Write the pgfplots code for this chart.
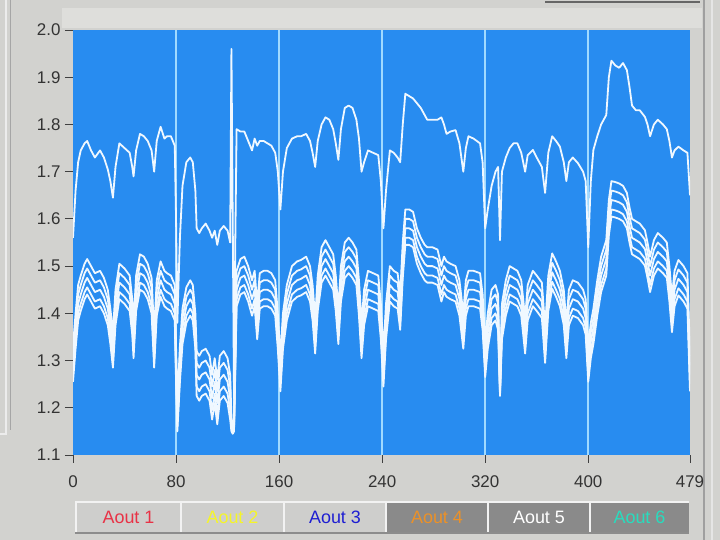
\documentclass[border=0pt]{standalone}
\usepackage{fontspec}
\setmainfont{Liberation Sans}
\usepackage{pgfplots}
\usepackage{pgfplotstable}
\pgfplotsset{compat=1.18}
\definecolor{bggray}{RGB}{210,210,207}
\definecolor{plotblue}{RGB}{40,140,240}
\definecolor{gridcyan}{RGB}{160,218,255}
\definecolor{boxlight}{RGB}{206,206,204}
\definecolor{boxdark}{RGB}{138,138,138}
\definecolor{lred}{RGB}{232,50,70}
\definecolor{lyellow}{RGB}{245,245,40}
\definecolor{lblue}{RGB}{30,30,210}
\definecolor{lorange}{RGB}{235,145,40}
\definecolor{lteal}{RGB}{40,220,190}
\definecolor{trace}{RGB}{240,248,255}
\definecolor{stripgray}{RGB}{222,222,219}

\pgfplotstableread{
x T a b c d e
0 1.56 1.33 1.31 1.29 1.27 1.255
2 1.66 1.40 1.38 1.36 1.34 1.325
4 1.72 1.46 1.44 1.42 1.40 1.385
6 1.745 1.48 1.46 1.44 1.42 1.405
9 1.76 1.505 1.485 1.465 1.445 1.43
11 1.765 1.515 1.495 1.475 1.455 1.44
14 1.745 1.50 1.48 1.46 1.44 1.425
17 1.73 1.485 1.465 1.445 1.425 1.41
21 1.745 1.49 1.47 1.45 1.43 1.415
24 1.73 1.475 1.455 1.435 1.415 1.40
27 1.705 1.45 1.43 1.41 1.39 1.375
29 1.68 1.41 1.39 1.37 1.35 1.335
31 1.645 1.36 1.34 1.32 1.30 1.285
33 1.71 1.45 1.43 1.41 1.39 1.375
36 1.76 1.505 1.485 1.465 1.445 1.43
40 1.75 1.495 1.475 1.455 1.435 1.42
44 1.74 1.48 1.46 1.44 1.42 1.405
46 1.71 1.43 1.41 1.39 1.37 1.355
47 1.69 1.38 1.36 1.34 1.32 1.305
49 1.745 1.48 1.46 1.44 1.42 1.405
52 1.78 1.525 1.505 1.485 1.465 1.45
55 1.775 1.52 1.50 1.48 1.46 1.445
58 1.765 1.505 1.485 1.465 1.445 1.43
61 1.745 1.475 1.455 1.435 1.415 1.40
63 1.70 1.36 1.34 1.32 1.30 1.285
65 1.765 1.47 1.45 1.43 1.41 1.395
68 1.795 1.51 1.49 1.47 1.45 1.435
71 1.77 1.49 1.47 1.45 1.43 1.415
73 1.775 1.485 1.465 1.445 1.425 1.41
76 1.775 1.48 1.46 1.44 1.42 1.405
79 1.755 1.46 1.44 1.42 1.40 1.385
80 1.60 1.33 1.31 1.29 1.27 1.255
81 1.38 1.21 1.19 1.17 1.16 1.15
83 1.56 1.33 1.31 1.29 1.27 1.255
85 1.67 1.41 1.39 1.37 1.35 1.335
88 1.72 1.455 1.435 1.415 1.395 1.38
91 1.73 1.47 1.45 1.43 1.41 1.395
93 1.72 1.46 1.44 1.42 1.40 1.385
95 1.66 1.40 1.38 1.36 1.34 1.325
96 1.58 1.32 1.295 1.27 1.245 1.225
98 1.57 1.31 1.285 1.26 1.235 1.215
100 1.58 1.32 1.295 1.27 1.245 1.225
103 1.59 1.325 1.30 1.275 1.25 1.23
106 1.575 1.31 1.285 1.26 1.235 1.215
108 1.56 1.27 1.245 1.22 1.195 1.175
110 1.575 1.305 1.28 1.255 1.23 1.21
112 1.545 1.26 1.235 1.21 1.185 1.165
114 1.575 1.31 1.285 1.26 1.235 1.215
117 1.585 1.32 1.295 1.27 1.245 1.225
120 1.575 1.305 1.28 1.255 1.23 1.21
122 1.55 1.27 1.245 1.22 1.195 1.175
123 1.96 1.18 1.17 1.16 1.155 1.15
124 1.60 1.16 1.155 1.15 1.15 1.145
125 1.22 1.17 1.165 1.16 1.155 1.15
126 1.55 1.35 1.33 1.31 1.29 1.275
127 1.79 1.49 1.47 1.45 1.43 1.415
130 1.785 1.515 1.495 1.475 1.455 1.44
133 1.785 1.52 1.50 1.48 1.46 1.445
136 1.765 1.50 1.48 1.46 1.44 1.425
139 1.745 1.47 1.45 1.43 1.41 1.395
141 1.77 1.49 1.47 1.45 1.43 1.415
143 1.755 1.42 1.40 1.38 1.36 1.345
145 1.765 1.485 1.465 1.445 1.425 1.41
148 1.765 1.49 1.47 1.45 1.43 1.415
151 1.76 1.49 1.47 1.45 1.43 1.415
154 1.755 1.485 1.465 1.445 1.425 1.41
157 1.74 1.47 1.45 1.43 1.41 1.395
159 1.70 1.40 1.38 1.36 1.34 1.325
161 1.62 1.31 1.29 1.27 1.25 1.235
163 1.70 1.40 1.38 1.36 1.34 1.325
166 1.75 1.46 1.44 1.42 1.40 1.385
170 1.77 1.50 1.48 1.46 1.44 1.425
174 1.775 1.51 1.49 1.47 1.45 1.435
177 1.775 1.513 1.493 1.473 1.453 1.438
181 1.78 1.52 1.50 1.48 1.46 1.445
184 1.765 1.50 1.48 1.46 1.44 1.425
186 1.74 1.46 1.44 1.42 1.40 1.385
188 1.71 1.39 1.37 1.35 1.33 1.315
190 1.765 1.48 1.46 1.44 1.42 1.405
193 1.80 1.54 1.52 1.50 1.48 1.465
196 1.815 1.555 1.535 1.515 1.495 1.48
199 1.81 1.54 1.52 1.50 1.48 1.465
202 1.79 1.525 1.505 1.485 1.465 1.45
204 1.76 1.48 1.46 1.44 1.42 1.405
206 1.725 1.41 1.39 1.37 1.35 1.335
208 1.79 1.50 1.48 1.46 1.44 1.425
211 1.835 1.55 1.53 1.51 1.49 1.475
214 1.84 1.56 1.54 1.52 1.50 1.485
217 1.835 1.55 1.53 1.51 1.49 1.475
220 1.81 1.535 1.515 1.495 1.475 1.46
222 1.77 1.47 1.45 1.43 1.41 1.395
224 1.70 1.38 1.36 1.34 1.32 1.305
226 1.72 1.45 1.43 1.41 1.39 1.375
229 1.745 1.49 1.47 1.45 1.43 1.415
233 1.74 1.485 1.465 1.445 1.425 1.41
237 1.735 1.48 1.46 1.44 1.42 1.405
239 1.68 1.42 1.40 1.38 1.36 1.345
241 1.58 1.32 1.30 1.28 1.26 1.245
243 1.66 1.42 1.40 1.38 1.36 1.345
246 1.745 1.50 1.48 1.46 1.44 1.425
249 1.74 1.49 1.47 1.45 1.43 1.415
252 1.73 1.485 1.465 1.445 1.425 1.41
254 1.72 1.44 1.42 1.40 1.38 1.365
256 1.80 1.55 1.53 1.51 1.49 1.475
258 1.865 1.62 1.60 1.58 1.56 1.545
261 1.86 1.62 1.60 1.58 1.56 1.545
264 1.855 1.615 1.595 1.575 1.555 1.54
267 1.845 1.58 1.56 1.54 1.52 1.505
270 1.835 1.56 1.54 1.52 1.50 1.485
273 1.82 1.545 1.525 1.505 1.485 1.47
275 1.81 1.54 1.52 1.50 1.48 1.465
279 1.81 1.54 1.52 1.50 1.48 1.465
283 1.81 1.535 1.515 1.495 1.475 1.46
286 1.815 1.50 1.48 1.46 1.44 1.425
288 1.80 1.52 1.50 1.48 1.46 1.445
290 1.78 1.51 1.49 1.47 1.45 1.435
293 1.785 1.505 1.485 1.465 1.445 1.43
297 1.788 1.50 1.48 1.46 1.44 1.425
300 1.76 1.47 1.45 1.43 1.41 1.395
303 1.70 1.40 1.38 1.36 1.34 1.325
305 1.75 1.47 1.45 1.43 1.41 1.395
307 1.775 1.49 1.47 1.45 1.43 1.415
311 1.77 1.49 1.47 1.45 1.43 1.415
316 1.76 1.485 1.465 1.445 1.425 1.41
318 1.72 1.44 1.42 1.40 1.38 1.365
320 1.58 1.34 1.32 1.30 1.28 1.265
322 1.62 1.40 1.38 1.36 1.34 1.325
325 1.67 1.45 1.43 1.41 1.39 1.375
328 1.70 1.46 1.44 1.42 1.40 1.385
330 1.71 1.44 1.42 1.40 1.38 1.365
331.5 1.555 1.245 1.24 1.235 1.23 1.225
333 1.70 1.42 1.40 1.38 1.36 1.345
336 1.73 1.47 1.45 1.43 1.41 1.395
339 1.75 1.50 1.48 1.46 1.44 1.425
342 1.76 1.495 1.475 1.455 1.435 1.42
345 1.76 1.49 1.47 1.45 1.43 1.415
348 1.74 1.47 1.45 1.43 1.41 1.395
351 1.70 1.39 1.37 1.35 1.33 1.315
353 1.735 1.46 1.44 1.42 1.40 1.385
357 1.746 1.49 1.47 1.45 1.43 1.415
360 1.73 1.48 1.46 1.44 1.42 1.405
364 1.71 1.465 1.445 1.425 1.405 1.39
366.5 1.655 1.37 1.35 1.33 1.31 1.295
369 1.74 1.48 1.46 1.44 1.42 1.405
372 1.775 1.527 1.507 1.487 1.467 1.452
375 1.765 1.51 1.49 1.47 1.45 1.435
378 1.753 1.49 1.47 1.45 1.43 1.415
381 1.72 1.45 1.43 1.41 1.39 1.375
383 1.68 1.38 1.36 1.34 1.32 1.305
385 1.72 1.45 1.43 1.41 1.39 1.375
388 1.73 1.47 1.45 1.43 1.41 1.395
392 1.718 1.465 1.445 1.425 1.405 1.39
396 1.70 1.45 1.43 1.41 1.39 1.375
398 1.68 1.43 1.41 1.39 1.37 1.355
400 1.54 1.33 1.31 1.29 1.27 1.255
402 1.68 1.38 1.36 1.34 1.32 1.305
404 1.746 1.41 1.39 1.37 1.35 1.335
407 1.775 1.47 1.45 1.43 1.41 1.395
410 1.80 1.52 1.50 1.48 1.46 1.445
414 1.82 1.555 1.535 1.515 1.495 1.48
416 1.90 1.64 1.62 1.60 1.58 1.565
418 1.935 1.68 1.66 1.64 1.62 1.605
421 1.925 1.678 1.658 1.638 1.618 1.603
424 1.92 1.675 1.655 1.635 1.615 1.60
427 1.93 1.67 1.65 1.63 1.61 1.595
430 1.915 1.655 1.635 1.615 1.595 1.58
432 1.88 1.625 1.605 1.585 1.565 1.55
434 1.84 1.60 1.58 1.56 1.54 1.525
437 1.83 1.595 1.575 1.555 1.535 1.52
440 1.83 1.59 1.57 1.55 1.53 1.515
444 1.816 1.576 1.556 1.536 1.516 1.501
446 1.80 1.55 1.53 1.51 1.49 1.475
448 1.775 1.52 1.50 1.48 1.46 1.445
451 1.80 1.555 1.535 1.515 1.495 1.48
454 1.81 1.57 1.55 1.53 1.51 1.495
458 1.80 1.56 1.54 1.52 1.50 1.485
461 1.79 1.55 1.53 1.51 1.49 1.475
463 1.765 1.50 1.48 1.46 1.44 1.425
465 1.73 1.435 1.415 1.395 1.375 1.36
467 1.745 1.49 1.47 1.45 1.43 1.415
470 1.753 1.513 1.493 1.473 1.453 1.438
474 1.745 1.50 1.48 1.46 1.44 1.425
477 1.74 1.485 1.465 1.445 1.425 1.41
479 1.65 1.31 1.29 1.27 1.25 1.235
}\chartdata

\begin{document}
\begin{tikzpicture}
\fill[bggray] (0bp,0bp) rectangle (720bp,540bp);
\useasboundingbox (0bp,0bp) rectangle (720bp,540bp);
% panel borders
\draw[white!85!gray, line width=1.2bp] (6bp,540bp) -- (6bp,106bp) -- (0bp,106bp);
\draw[gray!70, line width=1bp] (10bp,540bp) -- (10bp,110bp);
\fill[stripgray] (62bp,512bp) rectangle (702bp,532bp);
\draw[gray!80!black, line width=1.5bp] (545bp,538bp) -- (700bp,538bp);
\draw[gray!75, line width=1.2bp] (704bp,540bp) -- (704bp,0bp);
\draw[white!80!gray, line width=1.2bp] (712bp,540bp) -- (712bp,0bp);
\begin{axis}[
  at={(73bp,85bp)}, anchor=south west,
  scale only axis, width=617bp, height=425bp,
  xmin=0, xmax=479, ymin=1.1, ymax=2.0,
  axis background/.style={fill=plotblue},
  axis line style={draw=none},
  xtick={0,80,160,240,320,400,479},
  xticklabels={0,80,160,240,320,400,479},
  ytick={1.1,1.2,1.3,1.4,1.5,1.6,1.7,1.8,1.9,2.0},
  yticklabels={1.1,1.2,1.3,1.4,1.5,1.6,1.7,1.8,1.9,2.0},
  /pgf/number format/assume math mode=true,
  xtick pos=bottom, ytick pos=left,
  tick align=outside, major tick length=8bp,
  tick style={draw=black!75, line width=1bp},
  ticklabel style={font=\fontsize{17}{17}\selectfont, text=black!80},
  xticklabel style={yshift=-9bp},
  yticklabel style={xshift=-1bp},
  extra x ticks={80,160,240,320,400},
  extra x tick labels={},
  extra x tick style={xmajorgrids=true, major tick length=0bp,
     major grid style={draw=gridcyan, line width=1.5bp}},
  clip=true,
]
\addplot[trace, line width=1.8bp, line join=round] table[x=x, y=e] {\chartdata};
\addplot[trace, line width=1.8bp, line join=round] table[x=x, y=d] {\chartdata};
\addplot[trace, line width=1.8bp, line join=round] table[x=x, y=c] {\chartdata};
\addplot[trace, line width=1.8bp, line join=round] table[x=x, y=b] {\chartdata};
\addplot[trace, line width=1.8bp, line join=round] table[x=x, y=a] {\chartdata};
\addplot[trace, line width=1.8bp, line join=round] table[x=x, y=T] {\chartdata};
\end{axis}
% legend boxes
\fill[black!45] (75bp,6bp) rectangle (689bp,9bp);
\foreach \xa/\xb/\fc/\tc/\lab in {
   76/181/boxlight/lred/Aout 1,
   181/284/boxlight/lyellow/Aout 2,
   284/386/boxlight/lblue/Aout 3,
   386/488/boxdark/lorange/Aout 4,
   488/590/boxdark/white/Aout 5,
   590/689/boxdark/lteal/Aout 6} {
  \fill[\fc] (\xa bp,8bp) rectangle (\xb bp,38bp);
  \draw[white!90!gray, line width=1.2bp] (\xa bp,8bp) -- (\xa bp,38bp) -- (\xb bp,38bp);
  \node[text=\tc, font=\fontsize{18}{18}\selectfont] at ({(\xa+\xb)/2*1bp},23bp) {\lab};
}
\end{tikzpicture}
\end{document}
